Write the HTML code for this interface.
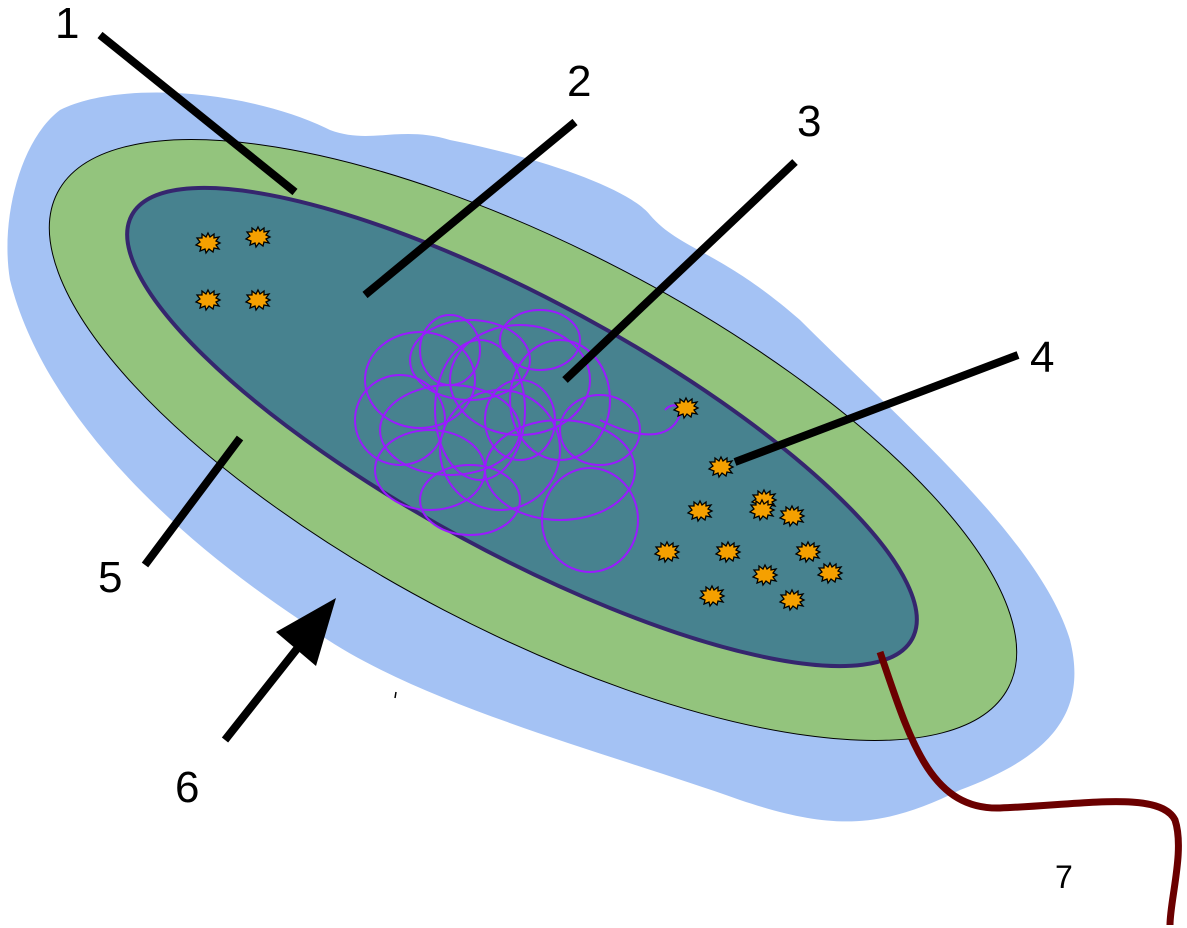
<!DOCTYPE html>
<html><head><meta charset="utf-8"><style>html,body{margin:0;padding:0;background:#fff}svg{display:block}</style></head>
<body>
<svg width="1187" height="928" viewBox="0 0 1187 928" xmlns="http://www.w3.org/2000/svg">
<defs>
<polygon id="rb" points="12,0 14,4 18,1 18,5 23,4 20,8 24,10 20,12 23,16 18,15 17,19 13,16 10,20 9,16 4,18 5,14 0,12 4,9 1,5 6,5 6,1 10,4" fill="#f5a000" stroke="#000" stroke-width="1.3"/>
</defs>
<path d="M60,110 C120,80 250,90 330,130 C370,145 400,125 450,140 C550,160 630,190 650,215 C680,250 720,250 800,320 C900,420 1040,540 1070,640 C1090,720 1040,760 960,790 C880,830 830,830 740,800 C600,750 400,700 300,620 C150,520 40,400 10,280 C0,220 20,140 60,110 Z" fill="#a4c2f4"/>
<ellipse cx="533" cy="440" rx="536" ry="192" transform="rotate(27.5 533 440)" fill="#93c47d" stroke="#000" stroke-width="1"/>
<ellipse cx="522" cy="427" rx="444" ry="126" transform="rotate(28.5 522 427)" fill="#47828f" stroke="#35266e" stroke-width="4"/>
<g fill="none" stroke="#9a1aff" stroke-width="2">
<ellipse cx="420" cy="380" rx="55" ry="48"/><ellipse cx="470" cy="360" rx="60" ry="40"/>
<ellipse cx="520" cy="380" rx="70" ry="55"/><ellipse cx="560" cy="400" rx="50" ry="60"/>
<ellipse cx="450" cy="430" rx="70" ry="45"/><ellipse cx="500" cy="450" rx="60" ry="60"/>
<ellipse cx="560" cy="470" rx="75" ry="50"/><ellipse cx="590" cy="520" rx="48" ry="52"/>
<ellipse cx="430" cy="470" rx="55" ry="40"/><ellipse cx="480" cy="410" rx="45" ry="70"/>
<ellipse cx="400" cy="420" rx="45" ry="45"/><ellipse cx="540" cy="340" rx="40" ry="30"/>
<ellipse cx="470" cy="500" rx="50" ry="35"/><ellipse cx="520" cy="420" rx="35" ry="40"/>
<ellipse cx="600" cy="430" rx="40" ry="35"/><ellipse cx="450" cy="350" rx="30" ry="35"/>
<path d="M600,420 C640,440 670,440 680,415 C682,405 672,402 665,410"/>
</g>
<g>
<use href="#rb" x="196" y="233"/><use href="#rb" x="246" y="227"/><use href="#rb" x="196" y="290"/><use href="#rb" x="246" y="290"/>
<use href="#rb" x="674" y="398"/><use href="#rb" x="709" y="457"/><use href="#rb" x="688" y="501"/><use href="#rb" x="752" y="490"/>
<use href="#rb" x="750" y="500"/><use href="#rb" x="780" y="506"/><use href="#rb" x="655" y="542"/><use href="#rb" x="716" y="542"/>
<use href="#rb" x="796" y="542"/><use href="#rb" x="818" y="563"/><use href="#rb" x="753" y="565"/><use href="#rb" x="700" y="586"/><use href="#rb" x="780" y="590"/>
</g>
<path d="M880,652 C910,740 930,810 1000,808 C1080,805 1160,790 1175,820 C1185,850 1170,900 1170,925" fill="none" stroke="#6b0000" stroke-width="7"/>
<line x1="396" y1="692" x2="395" y2="698" stroke="#000" stroke-width="1.5"/>
<g stroke="#000" stroke-width="8">
<line x1="100" y1="35" x2="295" y2="192"/><line x1="575" y1="122" x2="365" y2="295"/>
<line x1="795" y1="162" x2="565" y2="380"/><line x1="1018" y1="355" x2="735" y2="462"/>
<line x1="240" y1="438" x2="145" y2="565"/><line x1="225" y1="740" x2="300" y2="645"/>
</g>
<polygon points="336,598 276,632 316,666" fill="#000"/>
<g font-family="Liberation Sans, sans-serif" font-size="44" fill="#000">
<text x="55" y="38">1</text><text x="567" y="96">2</text><text x="797" y="136">3</text>
<text x="1030" y="372">4</text><text x="98" y="592">5</text><text x="175" y="802">6</text>
<text x="1055" y="888" font-size="32">7</text>
</g>
</svg>
</body></html>
